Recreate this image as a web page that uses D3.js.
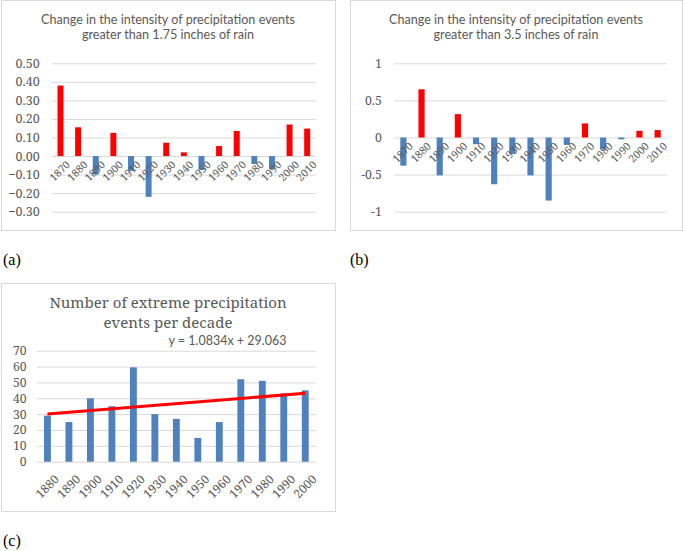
<!DOCTYPE html>
<html>
<head>
<meta charset="utf-8">
<script src="https://cdn.jsdelivr.net/npm/d3@7"></script>
<style>
  html, body { margin: 0; padding: 0; background: #fff; }
  svg { display: block; }
</style>
</head>
<body>
<svg id="chart" width="685" height="551"></svg>
<script>
// ---------- DATA ----------
const decadesA = ["1870","1880","1890","1900","1910","1920","1930","1940","1950","1960","1970","1980","1990","2000","2010"];
const valuesA  = [0.38, 0.155, -0.10, 0.125, -0.08, -0.22, 0.072, 0.02, -0.075, 0.054, 0.135, -0.043, -0.07, 0.17, 0.148];
const ticksA   = [0.5, 0.4, 0.3, 0.2, 0.1, 0, -0.1, -0.2, -0.3];
const titleA   = ["Change in the intensity of precipitation events", "greater than 1.75 inches of rain"];

const decadesB = ["1870","1880","1890","1900","1910","1920","1930","1940","1950","1960","1970","1980","1990","2000","2010"];
const valuesB  = [-0.38, 0.65, -0.51, 0.315, -0.09, -0.63, -0.22, -0.51, -0.85, -0.10, 0.19, -0.16, -0.025, 0.09, 0.10];
const ticksB   = [1, 0.5, 0, -0.5, -1];
const titleB   = ["Change in the intensity of precipitation events", "greater than 3.5 inches of rain"];

const decadesC = ["1880","1890","1900","1910","1920","1930","1940","1950","1960","1970","1980","1990","2000"];
const valuesC  = [29, 25, 40, 35, 59.5, 30, 27, 15, 25, 52, 51, 43, 45];
const ticksC   = [0, 10, 20, 30, 40, 50, 60, 70];
const titleC   = ["Number of extreme precipitation", "events per decade"];
const trendC   = { slope: 1.0834, intercept: 29.063 };
const trendLabel = "y = 1.0834x + 29.063";

const panelLabels = ["(a)", "(b)", "(c)"];

// ---------- STYLE ----------
const RED = "#ff0000", BLUE = "#4f81bd", GRID = "#d9d9d9", TXT = "#595959";
const SERIF = "'Noto Serif', 'Liberation Serif', serif";
const TIMES = "'Liberation Serif', 'Times New Roman', serif";
const SANS = "Lato, 'Open Sans', sans-serif";

const svg = d3.select("#chart");

function drawDiverging(cfg) {
  const g = svg.append("g");
  g.append("rect").attr("x", cfg.box[0] + 0.5).attr("y", cfg.box[1] + 0.5)
    .attr("width", cfg.box[2] - cfg.box[0]).attr("height", cfg.box[3] - cfg.box[1])
    .attr("fill", "#fff").attr("stroke", GRID).attr("stroke-width", 1);
  const tx = (cfg.box[0] + cfg.box[2]) / 2;
  cfg.title.forEach((t, i) => {
    g.append("text").attr("x", tx).attr("y", cfg.titleY + i * 14.5)
      .attr("text-anchor", "middle").attr("font-family", SANS).attr("font-size", 12.6)
      .attr("fill", TXT).text(t);
  });
  const x = d3.scaleBand().domain(cfg.cats).range(cfg.xr).paddingInner(0.66).paddingOuter(0.33);
  const y = d3.scaleLinear().domain(cfg.yd).range(cfg.yr);
  const yAxis = d3.axisLeft(y).tickValues(cfg.ticks).tickSize(-(cfg.xr[1] - cfg.xr[0]))
    .tickFormat(cfg.fmt).tickPadding(cfg.pad);
  const ax = g.append("g").attr("transform", `translate(${cfg.xr[0]},0)`).call(yAxis);
  ax.attr("font-family", SERIF);
  ax.select(".domain").remove();
  ax.selectAll(".tick line").attr("stroke", GRID);
  ax.selectAll(".tick text").attr("font-family", SERIF).attr("font-size", cfg.fs).attr("fill", TXT);
  g.selectAll("rect.bar").data(cfg.vals).join("rect").attr("class", "bar")
    .attr("x", (d, i) => x(cfg.cats[i]))
    .attr("width", x.bandwidth())
    .attr("y", d => y(Math.max(0, d)))
    .attr("height", d => Math.abs(y(d) - y(0)))
    .attr("fill", d => d >= 0 ? RED : BLUE);
  const xAxis = d3.axisBottom(x).tickSize(0).tickPadding(0);
  const xa = g.append("g").attr("transform", `translate(0,${y(0)})`).call(xAxis);
  xa.attr("font-family", SERIF);
  xa.select(".domain").remove();
  xa.selectAll(".tick text")
    .attr("font-family", SERIF).attr("font-size", 10.5).attr("fill", TXT)
    .attr("text-anchor", "end").attr("dy", null).attr("y", 0)
    .attr("transform", "translate(4,3) rotate(-45)")
    .attr("dominant-baseline", "hanging");
}

drawDiverging({
  box: [1, 0, 335, 230], titleY: 24, title: titleA,
  cats: decadesA, vals: valuesA, ticks: ticksA, yd: [-0.3, 0.5], yr: [211.7, 63.3],
  xr: [51.7, 316], fmt: d3.format(".2f"), fs: 12.5, pad: 12
});
drawDiverging({
  box: [350, 0, 682, 230], titleY: 24, title: titleB,
  cats: decadesB, vals: valuesB, ticks: ticksB, yd: [-1, 1], yr: [211.7, 63.3],
  xr: [394.3, 666.7], fmt: d => d3.format("")(d).replace("−", "-"), fs: 12.3, pad: 12.5
});

// ---------- Panel C ----------
(function () {
  const box = [1, 283, 335, 511];
  const g = svg.append("g");
  g.append("rect").attr("x", box[0] + 0.5).attr("y", box[1] + 0.5)
    .attr("width", box[2] - box[0]).attr("height", box[3] - box[1])
    .attr("fill", "#fff").attr("stroke", GRID);
  const tx = (box[0] + box[2]) / 2;
  titleC.forEach((t, i) => {
    g.append("text").attr("x", tx).attr("y", 308 + i * 19.5)
      .attr("text-anchor", "middle").attr("font-family", SERIF).attr("font-size", 15)
      .attr("fill", TXT).text(t);
  });
  const xr = [36.7, 316];
  const x = d3.scaleBand().domain(decadesC).range(xr).paddingInner(0.68).paddingOuter(0.34);
  const y = d3.scaleLinear().domain([0, 70]).range([461.7, 350.7]);
  const yAxis = d3.axisLeft(y).tickValues(ticksC).tickSize(-(xr[1] - xr[0])).tickPadding(10);
  const ax = g.append("g").attr("transform", `translate(${xr[0]},0)`).call(yAxis);
  ax.attr("font-family", SERIF);
  ax.select(".domain").remove();
  ax.selectAll(".tick line").attr("stroke", GRID);
  ax.selectAll(".tick text").attr("font-family", SERIF).attr("font-size", 12.2).attr("fill", TXT);
  g.selectAll("rect.bar").data(valuesC).join("rect").attr("class", "bar")
    .attr("x", (d, i) => x(decadesC[i])).attr("width", x.bandwidth())
    .attr("y", d => y(d)).attr("height", d => y(0) - y(d)).attr("fill", BLUE);
  const cx = i => x(decadesC[i]) + x.bandwidth() / 2;
  const n = decadesC.length;
  const pts = [0, n - 1].map(i => [cx(i), y(trendC.slope * (i + 1) + trendC.intercept)]);
  g.append("path").attr("d", d3.line()(pts)).attr("stroke", RED).attr("stroke-width", 3)
    .attr("fill", "none");
  g.append("text").attr("x", 286.5).attr("y", 345).attr("text-anchor", "end")
    .attr("font-family", SANS).attr("font-size", 12.5).attr("fill", TXT).text(trendLabel);
  const xa = g.append("g").attr("transform", `translate(0,${y(0)})`).call(d3.axisBottom(x).tickSize(0));
  xa.attr("font-family", SERIF);
  xa.select(".domain").remove();
  xa.selectAll(".tick text")
    .attr("font-family", SERIF).attr("font-size", 12).attr("fill", TXT)
    .attr("text-anchor", "end").attr("dy", null).attr("y", 0)
    .attr("transform", "translate(5,11) rotate(-45)")
    .attr("dominant-baseline", "hanging");
})();

[[3, 265], [350, 265], [3, 546]].forEach((p, i) => {
  svg.append("text").attr("x", p[0]).attr("y", p[1]).attr("font-family", TIMES)
    .attr("font-size", 16).attr("fill", "#000").text(panelLabels[i]);
});
</script>
</body>
</html>
